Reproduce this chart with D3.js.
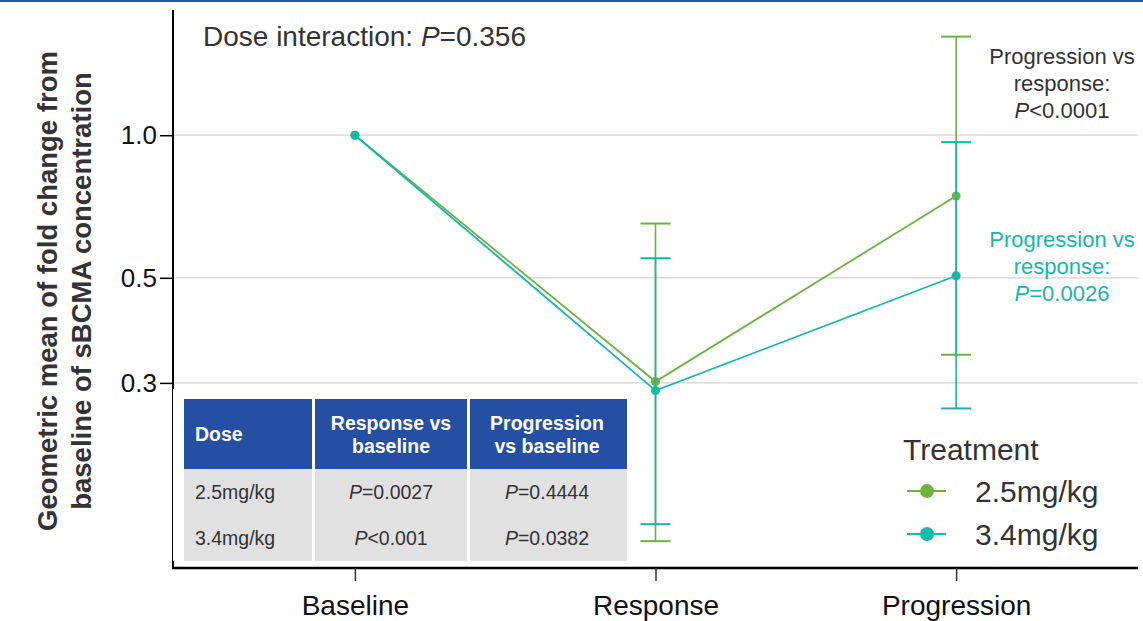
<!DOCTYPE html>
<html>
<head>
<meta charset="utf-8">
<script src="https://cdn.jsdelivr.net/npm/d3@7"></script>
<style>
  html, body { margin: 0; padding: 0; background: #fff; }
  svg { display: block; font-family: "Liberation Sans", Arial, sans-serif; }
</style>
</head>
<body>
<svg id="chart" width="1143" height="621"></svg>
<script>
// Visits on the x axis
const visits = ["Baseline", "Response", "Progression"];
// Treatment groups
const doses = ["2.5mg/kg", "3.4mg/kg"];
const doseColors = ["#6cb33f", "#14b8ad"];
// Geometric mean fold change per visit
const mean25 = [1.0, 0.302, 0.744];
const mean34 = [1.0, 0.289, 0.505];
// 95% CI bounds (baseline has none)
const lower25 = [null, 0.139, 0.344];
const upper25 = [null, 0.651, 1.615];
const lower34 = [null, 0.151, 0.265];
const upper34 = [null, 0.550, 0.967];
// Y axis ticks
const yTicks = [0.3, 0.5, 1.0];
// P-value table
const tableHeader = [["Dose"], ["Response vs", "baseline"], ["Progression", "vs baseline"]];
const tableDose = ["2.5mg/kg", "3.4mg/kg"];
const tableRespVsBase = ["=0.0027", "<0.001"];
const tableProgVsBase = ["=0.4444", "=0.0382"];

const svg = d3.select("#chart");
const W = 1143, H = 621;
const m = { left: 173, right: 5, top: 10, bottom: 53 };
const plotL = m.left, plotR = W - m.right, plotT = m.top, plotB = H - m.bottom;
const textCol = "#333333";

const x = d3.scalePoint().domain(visits).range([plotL, plotR]).padding(0.605);
const y = d3.scaleLog().domain([0.122, 1.838]).range([plotB, plotT]);

// top rule
svg.append("line").attr("x1", 0).attr("x2", W).attr("y1", 1).attr("y2", 1)
  .attr("stroke", "#2f56ae").attr("stroke-width", 2);

// gridlines
svg.append("g").selectAll("line").data(yTicks).join("line")
  .attr("x1", plotL).attr("x2", plotR)
  .attr("y1", d => y(d)).attr("y2", d => y(d))
  .attr("stroke", "#d4d4d4").attr("stroke-width", 1.2);

// axes
const yAxis = svg.append("g").attr("transform", `translate(${plotL},0)`)
  .call(d3.axisLeft(y).tickValues(yTicks).tickFormat(d3.format(".1f")).tickSize(13).tickPadding(3));
yAxis.select(".domain").attr("stroke", "#000").attr("stroke-width", 2)
  .attr("d", `M0,${plotT}V${plotB}`);
yAxis.selectAll(".tick line").attr("stroke", "#000").attr("stroke-width", 1.5);
yAxis.selectAll(".tick text").attr("font-size", 26).attr("fill", "#111")
  .attr("font-family", "Liberation Sans, Arial, sans-serif");

const xAxis = svg.append("g").attr("transform", `translate(0,${plotB})`)
  .call(d3.axisBottom(x).tickSize(13).tickPadding(14));
xAxis.select(".domain").attr("stroke", "#000").attr("stroke-width", 2.5)
  .attr("d", `M${plotL - 1},0H${plotR}`);
xAxis.selectAll(".tick line").attr("stroke", "#333").attr("stroke-width", 1.5);
xAxis.selectAll(".tick text").attr("font-size", 28).attr("fill", "#111")
  .attr("font-family", "Liberation Sans, Arial, sans-serif");

// y axis title
const yt = svg.append("text").attr("transform", "translate(0,291) rotate(-90)")
  .attr("text-anchor", "middle").attr("font-weight", "bold").attr("font-size", 27.5).attr("fill", textCol);
yt.append("tspan").attr("x", 0).attr("y", 57).text("Geometric mean of fold change from");
yt.append("tspan").attr("x", 0).attr("y", 91).text("baseline of sBCMA concentration");

// series
const series = [
  { name: doses[0], color: doseColors[0], mean: mean25, lo: lower25, hi: upper25 },
  { name: doses[1], color: doseColors[1], mean: mean34, lo: lower34, hi: upper34 }
];

const line = d3.line().x((d, i) => x(visits[i])).y(d => y(d));
const capW = 15;

series.forEach(s => {
  const g = svg.append("g");
  const bars = visits.map((v, i) => ({ v, lo: s.lo[i], hi: s.hi[i] })).filter(d => d.lo != null);
  g.selectAll("line.eb").data(bars).join("line").attr("class", "eb")
    .attr("x1", d => x(d.v)).attr("x2", d => x(d.v))
    .attr("y1", d => y(d.lo)).attr("y2", d => y(d.hi))
    .attr("stroke", s.color).attr("stroke-width", 1.6);
  ["lo", "hi"].forEach(k => {
    g.selectAll("line.cap" + k).data(bars).join("line").attr("class", "cap" + k)
      .attr("x1", d => x(d.v) - capW).attr("x2", d => x(d.v) + capW)
      .attr("y1", d => y(d[k])).attr("y2", d => y(d[k]))
      .attr("stroke", s.color).attr("stroke-width", 2);
  });
  g.append("path").datum(s.mean).attr("d", line)
    .attr("fill", "none").attr("stroke", s.color).attr("stroke-width", 1.8);
  g.selectAll("circle").data(s.mean).join("circle")
    .attr("cx", (d, i) => x(visits[i])).attr("cy", d => y(d))
    .attr("r", 4.5).attr("fill", s.color);
});

// dose interaction label
const di = svg.append("text").attr("x", 203).attr("y", 46).attr("font-size", 28).attr("fill", textCol);
di.append("tspan").text("Dose interaction: ");
di.append("tspan").attr("font-style", "italic").text("P");
di.append("tspan").text("=0.356");

// progression vs response annotations
function pAnno(cx, y0, color, pText) {
  const t = svg.append("text").attr("text-anchor", "middle").attr("font-size", 22).attr("fill", color);
  t.append("tspan").attr("x", cx).attr("y", y0).text("Progression vs");
  t.append("tspan").attr("x", cx).attr("y", y0 + 27).text("response:");
  const l3 = t.append("tspan").attr("x", cx).attr("y", y0 + 54);
  l3.append("tspan").attr("font-style", "italic").text("P");
  l3.append("tspan").text(pText);
}
pAnno(1062, 64, textCol, "<0.0001");
pAnno(1062, 247, doseColors[1], "=0.0026");

// P-value table
const tX = 184, tY = 399, colW = [131, 155, 157], gap = 3, headH = 70, rowH = 46;
const colX = colW.map((w, i) => tX + d3.sum(colW.slice(0, i)));
const tbl = svg.append("g");
tbl.append("rect").attr("x", tX - 11).attr("y", tY - 10).attr("width", d3.sum(colW) + 11 + 4)
  .attr("height", headH + rowH * 2 + 10).attr("fill", "#fff");
colW.forEach((w, i) => {
  const cw = w - (i < colW.length - 1 ? gap : 0);
  tbl.append("rect").attr("x", colX[i]).attr("y", tY).attr("width", cw).attr("height", headH).attr("fill", "#254fa2");
  tbl.append("rect").attr("x", colX[i]).attr("y", tY + headH).attr("width", cw).attr("height", rowH * 2).attr("fill", "#e1e1e1");
});
tableHeader.forEach((lines, i) => {
  const cx = i === 0 ? colX[0] + 11 : colX[i] + (colW[i] - gap) / 2;
  const t = tbl.append("text").attr("font-weight", "bold").attr("font-size", 19.5).attr("fill", "#fff")
    .attr("text-anchor", i === 0 ? "start" : "middle");
  const y0 = tY + headH / 2 + 7 - (lines.length - 1) * 11.5;
  lines.forEach((ln, j) => t.append("tspan").attr("x", cx).attr("y", y0 + j * 23).text(ln));
});
tableDose.forEach((d, r) => {
  const yy = tY + headH + rowH * r + rowH / 2 + 7;
  tbl.append("text").attr("x", colX[0] + 11).attr("y", yy).attr("font-size", 19.5).attr("fill", textCol).text(d);
  [tableRespVsBase[r], tableProgVsBase[r]].forEach((p, c) => {
    const t = tbl.append("text").attr("x", colX[c + 1] + (colW[c + 1] - gap) / 2).attr("y", yy)
      .attr("text-anchor", "middle").attr("font-size", 19.5).attr("fill", textCol);
    t.append("tspan").attr("font-style", "italic").text("P");
    t.append("tspan").text(p);
  });
});

// legend
const lg = svg.append("g");
lg.append("text").attr("x", 903).attr("y", 460).attr("font-size", 30).attr("fill", textCol).text("Treatment");
doses.forEach((d, i) => {
  const ly = 491 + i * 43;
  lg.append("line").attr("x1", 907).attr("x2", 946).attr("y1", ly).attr("y2", ly)
    .attr("stroke", doseColors[i]).attr("stroke-width", 2);
  lg.append("circle").attr("cx", 927).attr("cy", ly).attr("r", 7).attr("fill", doseColors[i]);
  lg.append("text").attr("x", 975).attr("y", ly + 11).attr("font-size", 30).attr("fill", textCol).text(d);
});
</script>
</body>
</html>
